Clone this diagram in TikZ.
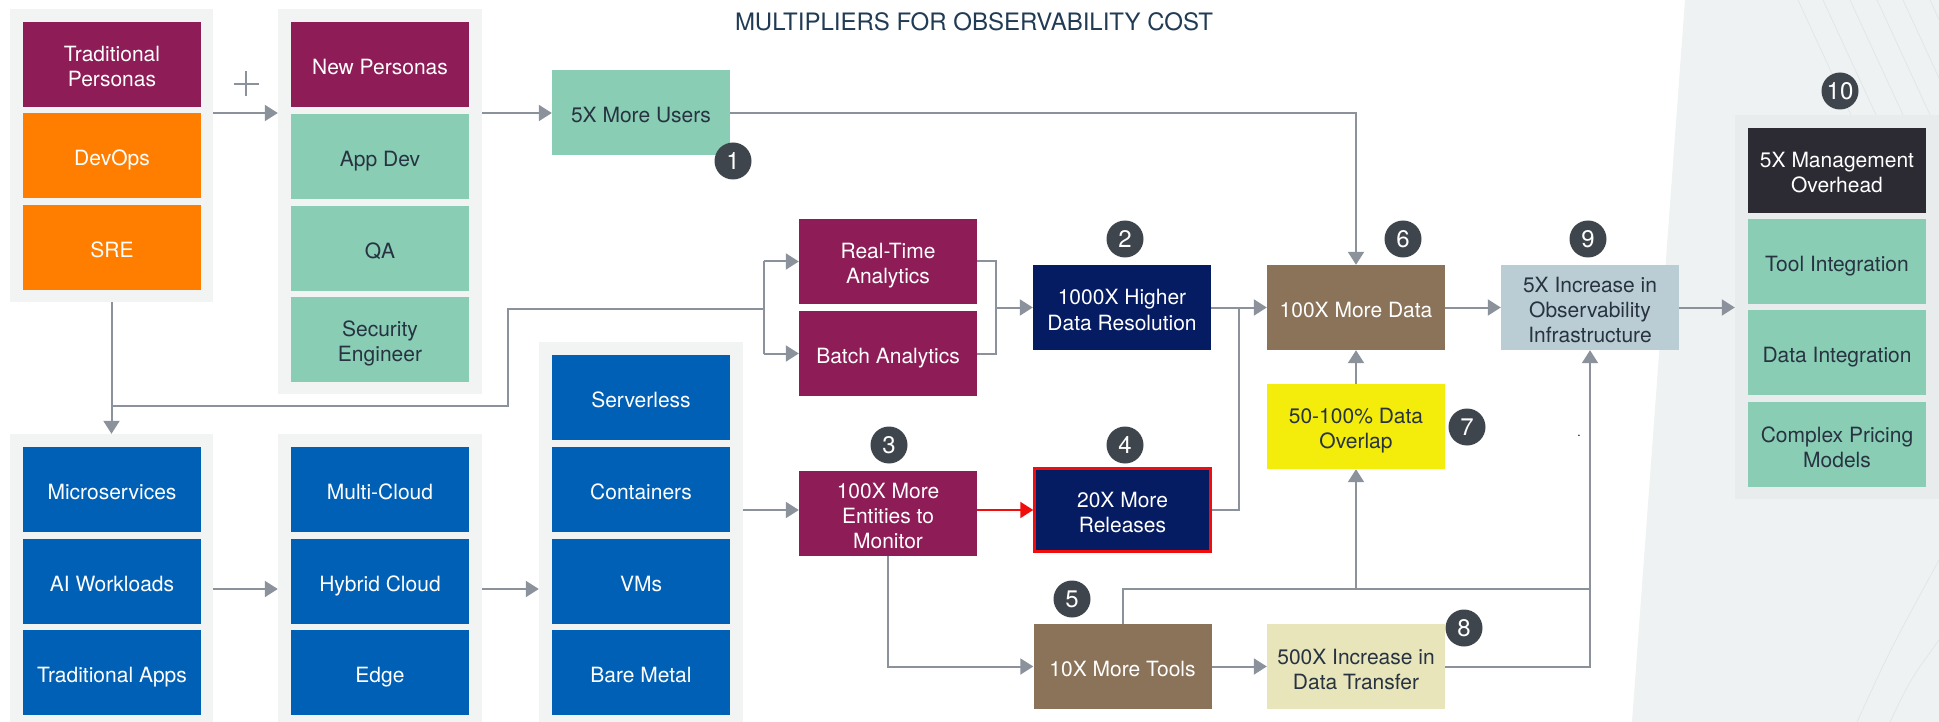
\documentclass[tikz,border=0pt]{standalone}
\usepackage{fontspec}
\setmainfont{TeX Gyre Heros}
\usetikzlibrary{arrows.meta}

\definecolor{cPurple}{HTML}{8E1C56}
\definecolor{cOrange}{HTML}{FF7E00}
\definecolor{cTeal}{HTML}{88CDB4}
\definecolor{cBlue}{HTML}{0060B5}
\definecolor{cNavy}{HTML}{051B62}
\definecolor{cBrown}{HTML}{8A7359}
\definecolor{cYellow}{HTML}{F4EC0A}
\definecolor{cPale}{HTML}{E8E5BB}
\definecolor{cSteel}{HTML}{BBCDD4}
\definecolor{cInk}{HTML}{2C2B33}
\definecolor{cPanel}{HTML}{F2F3F3}
\definecolor{cPanelR}{HTML}{E8ECED}
\definecolor{cBgR}{HTML}{EEF2F3}
\definecolor{cStreak}{HTML}{E1E7E9}
\definecolor{cBadge}{HTML}{3E454C}
\definecolor{cLine}{HTML}{8C929B}
\definecolor{cText}{HTML}{283341}
\definecolor{cTitle}{HTML}{213B55}
\definecolor{cRed}{HTML}{F20D0D}

% strut that fixes the height of a box's first text line
\newcommand\lnA{\rule{0pt}{24pt}}

\begin{document}
\begin{tikzpicture}[x=1pt,y=-1pt,
  box/.style={rectangle, minimum width=178pt, minimum height=85pt, inner sep=2pt,
    align=center, font=\fontsize{21}{25}\selectfont,
    execute at begin node={\lnA},
    execute at end node={\rule[-4pt]{0pt}{4pt}}},
  darkbox/.style={box, text=white},
  lightbox/.style={box, text=cText},
  panel/.style={rectangle, fill=cPanel, inner sep=0pt},
  badge/.style={circle, fill=cBadge, minimum size=37pt, inner sep=0pt, text=white,
    font=\fontsize{24}{24}\selectfont},
  line/.style={draw=cLine, line width=2pt},
  conn/.style={line, -{Triangle[length=13pt,width=16pt]}},
  redconn/.style={draw=cRed, line width=2pt, -{Triangle[length=13pt,width=16pt]}},
]
\useasboundingbox (0,0) rectangle (1939,722);
\clip (0,0) rectangle (1939,722);

% page background with the shaded strip on the right
\fill[white] (0,0) rectangle (1939,722);
\fill[cBgR] (1685,0) -- (1939,0) -- (1939,722) -- (1632,722) -- cycle;
\foreach \sx in {1798,1823,1850,1877,1903,1930}
  \draw[cStreak, line width=0.8pt] (\sx,0) -- ++(120,260);
\draw[cStreak, line width=0.8pt] (1857,722) .. controls (1890,650) .. (1939,560);
\draw[cStreak, line width=0.8pt] (1890,722) .. controls (1910,680) .. (1939,640);

% title
\node[font=\fontsize{24}{24}\selectfont, text=cTitle] (title) at (974,22) {MULTIPLIERS FOR OBSERVABILITY COST};

% group panels
\node[panel, minimum width=203pt, minimum height=293pt] (pA) at (111.5,155.5) {};
\node[panel, minimum width=204pt, minimum height=385pt] (pB) at (380,201.5) {};
\node[panel, minimum width=203pt, minimum height=296pt] (pC) at (111.5,582) {};
\node[panel, minimum width=204pt, minimum height=296pt] (pD) at (380,582) {};
\node[panel, minimum width=204pt, minimum height=388pt] (pE) at (641,536) {};
\node[panel, fill=cPanelR, minimum width=210pt, minimum height=384pt] (pF) at (1840,307) {};

% personas
\node[darkbox, fill=cPurple] (tradp) at (112,64.5) {\lnA Traditional\\Personas};
\node[darkbox, fill=cOrange] (devops) at (112,155.5) {DevOps};
\node[darkbox, fill=cOrange] (sre) at (112,247.5) {SRE};
\node[darkbox, fill=cPurple] (newp) at (380,64.5) {New Personas};
\node[lightbox, fill=cTeal] (appdev) at (380,156.5) {App Dev};
\node[lightbox, fill=cTeal] (qa) at (380,248.5) {QA};
\node[lightbox, fill=cTeal] (sec) at (380,339.5) {\lnA Security\\Engineer};
\node[lightbox, fill=cTeal] (users) at (641,113) {5X More Users};

% workloads and platforms
\node[darkbox, fill=cBlue] (micro) at (112,489.5) {Microservices};
\node[darkbox, fill=cBlue] (aiw) at (112,581.5) {AI Workloads};
\node[darkbox, fill=cBlue] (tapps) at (112,672.5) {Traditional Apps};
\node[darkbox, fill=cBlue] (multi) at (380,489.5) {Multi-Cloud};
\node[darkbox, fill=cBlue] (hybrid) at (380,581.5) {Hybrid Cloud};
\node[darkbox, fill=cBlue] (edge) at (380,672.5) {Edge};
\node[darkbox, fill=cBlue] (srvless) at (641,397.5) {Serverless};
\node[darkbox, fill=cBlue] (contain) at (641,489.5) {Containers};
\node[darkbox, fill=cBlue] (vms) at (641,581.5) {VMs};
\node[darkbox, fill=cBlue] (metal) at (641,672.5) {Bare Metal};

% multipliers
\node[darkbox, fill=cPurple] (rta) at (888,261.5) {\lnA Real-Time\\Analytics};
\node[darkbox, fill=cPurple] (batch) at (888,353.5) {Batch Analytics};
\node[darkbox, fill=cPurple] (ent) at (888,513.5) {\lnA 100X More\\Entities to\\Monitor};
\node[darkbox, fill=cNavy] (res1000) at (1122,307.5) {\lnA 1000X Higher\\Data Resolution};
\node[darkbox, fill=cNavy, draw=cRed, line width=2.5pt, minimum width=176pt, minimum height=83pt] (rel20) at (1122.5,510) {\lnA 20X More\\Releases};
\node[darkbox, fill=cBrown] (tools10) at (1122.5,666.5) {10X More Tools};
\node[darkbox, fill=cBrown] (data100) at (1356,307.5) {100X More Data};
\node[lightbox, fill=cYellow] (overlap) at (1356,426.5) {\lnA 50-100\% Data\\Overlap};
\node[lightbox, fill=cPale] (xfer500) at (1356,666.5) {\lnA 500X Increase in\\Data Transfer};
\node[lightbox, fill=cSteel] (infra) at (1590,307.5) {\lnA 5X Increase in\\Observability\\Infrastructure};

% overhead column
\node[darkbox, fill=cInk] (mgmt) at (1837,170.5) {\lnA 5X Management\\Overhead};
\node[lightbox, fill=cTeal] (toolint) at (1837,261.5) {Tool Integration};
\node[lightbox, fill=cTeal] (dataint) at (1837,352.5) {Data Integration};
\node[lightbox, fill=cTeal] (pricing) at (1837,444.5) {\lnA Complex Pricing\\Models};

% numbered badges
\node[badge] (b1) at (733,161) {1};
\node[badge] (b2) at (1125,239) {2};
\node[badge] (b3) at (889,445) {3};
\node[badge] (b4) at (1125,445) {4};
\node[badge] (b5) at (1072,599) {5};
\node[badge] (b6) at (1403,239) {6};
\node[badge] (b7) at (1467,427) {7};
\node[badge] (b8) at (1464,628) {8};
\node[badge] (b9) at (1588,239) {9};
\node[badge] (b10) at (1840,91) {10};

% plus sign between persona groups
\coordinate (plusc) at (246,84);
\draw[cLine, line width=1.3pt] ([xshift=-12.5pt]plusc) -- ([xshift=12.5pt]plusc);
\draw[cLine, line width=1.3pt] ([yshift=-12.5pt]plusc) -- ([yshift=12.5pt]plusc);

% stray full stop
\node[font=\fontsize{12}{12}\selectfont, inner sep=0pt] (dot) at (1579,436) {.};

% routing points
\coordinate (k1) at (508,406);
\coordinate (k2) at (764,309);
\coordinate (k3) at (996,307.5);
\coordinate (k4) at (1239,307.5);
\coordinate (k5) at (1590,589);
\coordinate (r1) at (0,589);

% connectors
\draw[conn] (pA.east |- users.west) -- (pB.west |- users.west);
\draw[conn] (pB.east |- users.west) -- (users.west);
\draw[conn] (users.east) -| (data100.north);
\draw[conn] (pA.south) -- (pC.north);
\draw[line] (pA.south |- k1) -- (k1) |- (k2);
\draw[line] (k2 |- rta.west) -- (k2 |- batch.west);
\draw[conn] (k2 |- rta.west) -- (rta.west);
\draw[conn] (k2 |- batch.west) -- (batch.west);
\draw[line] (rta.east) -| (k3);
\draw[line] (batch.east) -| (k3);
\draw[conn] (k3) -- (res1000.west);
\draw[conn] (res1000.east) -- (data100.west);
\draw[line] (rel20.east) -| (k4);
\draw[conn] (pC.east |- r1) -- (pD.west |- r1);
\draw[conn] (pD.east |- r1) -- (pE.west |- r1);
\draw[conn] (pE.east |- rel20.west) -- (ent.west |- rel20.west);
\draw[redconn] (ent.east |- rel20.west) -- (rel20.west);
\draw[conn] (ent.south) |- (tools10.west);
\draw[conn] (tools10.east) -- (xfer500.west);
\draw[line] (tools10.north) |- (k5);
\draw[conn] (overlap.south |- k5) -- (overlap.south);
\draw[conn] (overlap.north) -- (data100.south);
\draw[conn] (xfer500.east) -| (infra.south);
\draw[conn] (data100.east) -- (infra.west);
\draw[conn] (infra.east) -- (pF.west |- infra.east);
\end{tikzpicture}
\end{document}
